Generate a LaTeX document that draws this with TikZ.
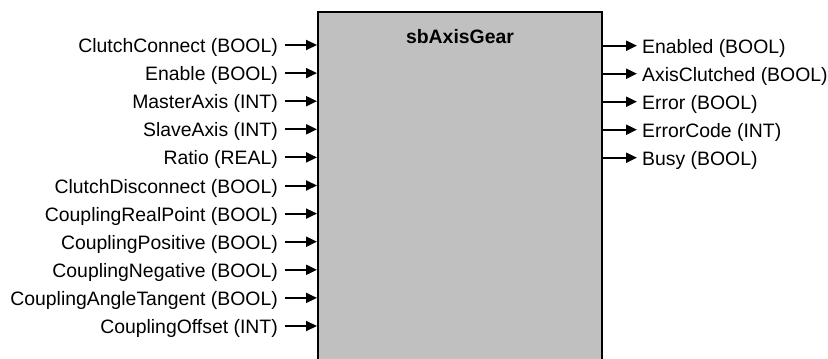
\documentclass[tikz,border=0pt]{standalone}
\usepackage{fontspec}
\setmainfont{Liberation Sans}
\usetikzlibrary{arrows.meta}
\tikzset{
  lbl/.style={inner sep=0pt, font=\fontsize{19.4}{21}\selectfont, text=black},
  pinarrow/.style={line width=2pt, -{Triangle[length=11pt,width=10pt]}},
  fb/.style={draw=black, line width=2.6pt, fill=boxgray},
}
\definecolor{boxgray}{HTML}{C0C0C0}
\begin{document}
\begin{tikzpicture}[x=1pt,y=-1pt]
\useasboundingbox (0,0) rectangle (828,359);
\clip (0,0) rectangle (828,359);
\fill[white] (0,0) rectangle (828,359);
% function block
\coordinate (bl) at (318,380);
\coordinate (tl) at (318,12);
\coordinate (tr) at (602,12);
\coordinate (br) at (602,380);
\filldraw[fb] (bl) -- (tl) -- (tr) -- (br);
\node[lbl, font=\fontsize{19.4}{21}\selectfont\bfseries, anchor=base] (title) at (460,43) {sbAxisGear};
% inputs
\foreach \i/\t in {0/ClutchConnect (BOOL),1/Enable (BOOL),2/MasterAxis (INT),3/SlaveAxis (INT),4/Ratio (REAL),5/ClutchDisconnect (BOOL),6/CouplingRealPoint (BOOL),7/CouplingPositive (BOOL),8/CouplingNegative (BOOL),9/CouplingAngleTangent (BOOL),10/CouplingOffset (INT)}{
  \pgfmathsetmacro{\yy}{45+28.1*\i}
  \node[lbl, anchor=base east] (in\i) at (278,\yy+7.5) {\t};
  \coordinate (ins\i) at (285,\yy);
  \coordinate (inp\i) at (317,\yy);
  \draw[pinarrow] (ins\i) -- (inp\i);
}
% outputs
\foreach \i/\t in {0/Enabled (BOOL),1/AxisClutched (BOOL),2/Error (BOOL),3/ErrorCode (INT),4/Busy (BOOL)}{
  \pgfmathsetmacro{\yy}{45.7+28*\i}
  \coordinate (outp\i) at (603,\yy);
  \coordinate (oute\i) at (637,\yy);
  \node[lbl, anchor=base west] (out\i) at (642,\yy+7.5) {\t};
  \draw[pinarrow] (outp\i) -- (oute\i);
}
\end{tikzpicture}
\end{document}
